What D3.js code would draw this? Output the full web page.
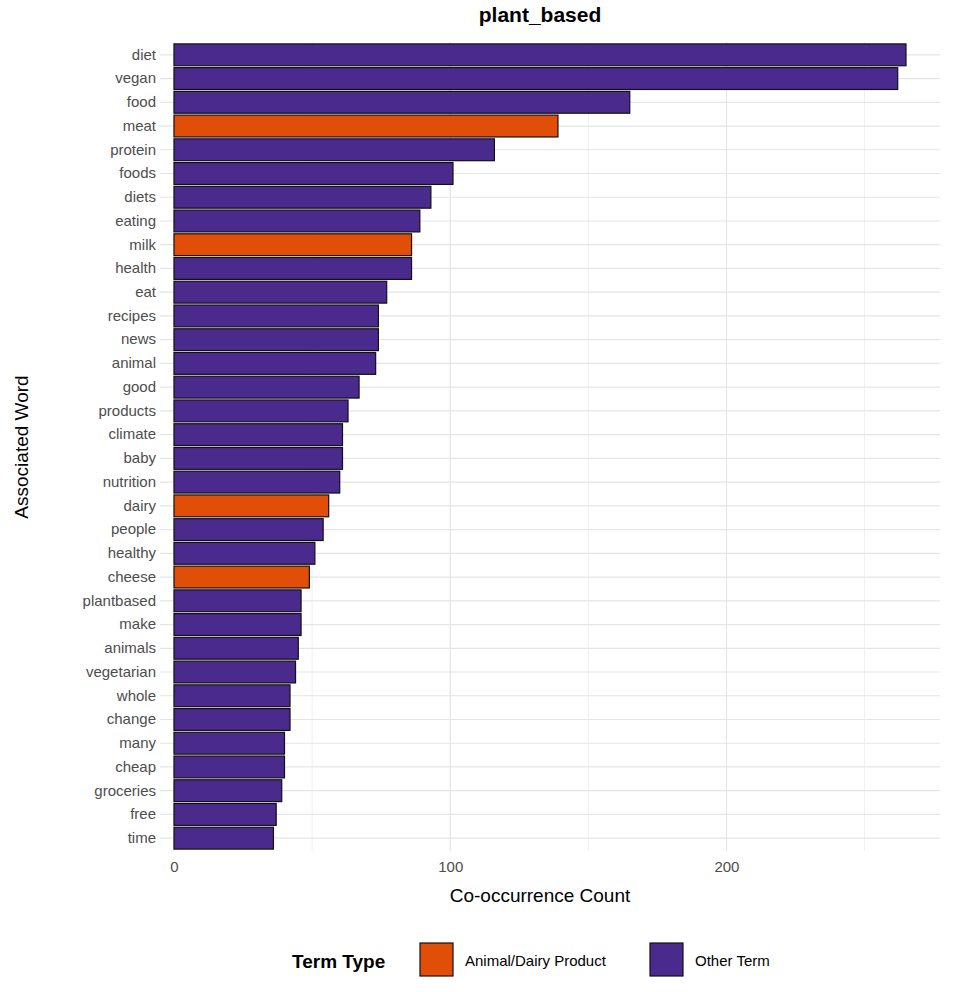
<!DOCTYPE html>
<html>
<head>
<script src="https://cdnjs.cloudflare.com/ajax/libs/d3/7.8.5/d3.min.js"></script>
<style>
body{margin:0;background:#fff;font-family:"Liberation Sans",Arial,sans-serif;}
</style>
</head>
<body>
<svg width="956" height="992"></svg>
<script>
var words = ["diet","vegan","food","meat","protein","foods","diets","eating","milk","health","eat","recipes","news","animal","good","products","climate","baby","nutrition","dairy","people","healthy","cheese","plantbased","make","animals","vegetarian","whole","change","many","cheap","groceries","free","time"];
var counts = [265,262,165,139,116,101,93,89,86,86,77,74,74,73,67,63,61,61,60,56,54,51,49,46,46,45,44,42,42,40,40,39,37,36];
var animalTerms = ["meat","milk","dairy","cheese"];
var xTicks = [0,100,200];
var xMinor = [50,150,250];

(function(){
var svg = d3.select("svg");
var pLeft = 174, pRight = 940, pTop = 42, pBottom = 851;

var x = d3.scaleLinear().domain([0, 265]).range([pLeft, 906]);
var y = d3.scaleBand().domain(words).range([pTop, pBottom]).padding(0.08);
var color = function(w){ return animalTerms.indexOf(w) >= 0 ? "#E04E07" : "#4B2A8E"; };

var grid = svg.append("g");
xMinor.forEach(function(v){
  grid.append("line").attr("x1", x(v)).attr("x2", x(v)).attr("y1", pTop).attr("y2", pBottom)
    .attr("stroke", "#f0f0f0").attr("stroke-width", 1);
});
xTicks.forEach(function(v){
  grid.append("line").attr("x1", x(v)).attr("x2", x(v)).attr("y1", pTop).attr("y2", pBottom)
    .attr("stroke", "#e5e5e5").attr("stroke-width", 1.2);
});
words.forEach(function(w){
  var cy = y(w) + y.bandwidth()/2;
  grid.append("line").attr("x1", 160).attr("x2", pRight).attr("y1", cy).attr("y2", cy)
    .attr("stroke", "#e5e5e5").attr("stroke-width", 1.2);
});

svg.selectAll("rect.bar").data(words).enter().append("rect")
  .attr("class", "bar")
  .attr("x", x(0))
  .attr("y", function(d){ return y(d); })
  .attr("width", function(d, i){ return x(counts[i]) - x(0); })
  .attr("height", y.bandwidth())
  .attr("fill", color)
  .attr("stroke", "#111").attr("stroke-width", 1.2);

var yAxis = svg.append("g").attr("transform", "translate(" + (pLeft - 14) + ",0)")
  .call(d3.axisLeft(y).tickSize(0).tickPadding(4));
yAxis.select(".domain").remove();
yAxis.selectAll("text").attr("font-size", 15).attr("fill", "#4d4d4d").attr("font-family", "Liberation Sans, Arial, sans-serif");

var xAxis = svg.append("g").attr("transform", "translate(0," + (pBottom + 4) + ")")
  .call(d3.axisBottom(x).tickValues(xTicks).tickSize(0).tickPadding(6));
xAxis.select(".domain").remove();
xAxis.selectAll("text").attr("font-size", 15).attr("fill", "#4d4d4d").attr("font-family", "Liberation Sans, Arial, sans-serif");

svg.append("text").attr("x", 540).attr("y", 22).attr("text-anchor", "middle")
  .attr("font-size", 21).attr("font-weight", "bold").text("plant_based");
svg.append("text").attr("x", 540).attr("y", 902).attr("text-anchor", "middle")
  .attr("font-size", 19).text("Co-occurrence Count");
svg.append("text").attr("transform", "translate(28,447) rotate(-90)").attr("text-anchor", "middle")
  .attr("font-size", 19).text("Associated Word");

var lg = svg.append("g");
lg.append("text").attr("x", 292).attr("y", 968).attr("font-size", 19).attr("font-weight", "bold").text("Term Type");
var items = [["Animal/Dairy Product", "#E04E07", 420], ["Other Term", "#4B2A8E", 650]];
items.forEach(function(it){
  lg.append("rect").attr("x", it[2]).attr("y", 943).attr("width", 33).attr("height", 33)
    .attr("fill", it[1]).attr("stroke", "#111").attr("stroke-width", 1.2);
  lg.append("text").attr("x", it[2] + 45).attr("y", 966).attr("font-size", 15).text(it[0]);
});
})();
</script>
</body>
</html>
